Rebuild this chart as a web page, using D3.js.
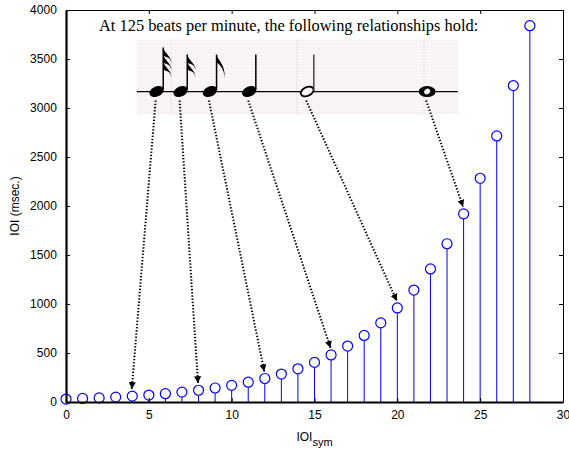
<!DOCTYPE html>
<html>
<head>
<meta charset="utf-8">
<script src="https://cdn.jsdelivr.net/npm/d3@7"></script>
<style>
  body { margin: 0; background: #fff; }
  svg { display: block; }
</style>
</head>
<body>
<div id="chart"></div>
<script>
// stem values (IOI in msec per IOI_sym step)
let ioiSym = d3.range(0, 29);
let ioiMsec = [30, 36, 42, 50, 60, 71, 85, 101, 120, 143, 170, 202, 240, 285, 339,
               404, 480, 571, 679, 807, 960, 1142, 1358, 1615, 1920, 2283, 2715, 3229, 3840];

let xTicks = [0, 5, 10, 15, 20, 25, 30];
let yTicks = [0, 500, 1000, 1500, 2000, 2500, 3000, 3500, 4000];

// inset: note symbols, their x position (in IOI_sym units) and the stem they point to
let noteTypes = ["32nd", "16th", "8th", "quarter", "half", "whole"];
let noteX = [5.47, 6.92, 8.69, 11.06, 14.56, 21.8];
let noteTarget = [4, 8, 12, 16, 20, 24];
let staffY = 3168;              // staff line level in msec units
let insetX = [4.28, 23.65];
let insetY = [2933, 3700];

let width = 569, height = 451;
let margin = {top: 10, right: 6, bottom: 49, left: 66};

let svg = d3.select("#chart")
    .append("svg")
    .attr("width", width)
    .attr("height", height);

let x = d3.scaleLinear().domain([0, 30]).range([margin.left, width - margin.right]);
let y = d3.scaleLinear().domain([0, 4000]).range([height - margin.bottom, margin.top]);

let axisFont = "'Liberation Sans', Arial, Helvetica, sans-serif";
let plain = d3.format("d");

// stems
svg.append("g").selectAll("line")
    .data(ioiSym)
    .enter()
    .append("line")
    .attr("x1", d => x(d)).attr("x2", d => x(d))
    .attr("y1", y(0))
    .attr("y2", (d, i) => y(ioiMsec[i]) + 5)
    .attr("stroke", "#0000ff")
    .attr("stroke-width", 1);

svg.append("g").selectAll("circle")
    .data(ioiSym)
    .enter()
    .append("circle")
    .attr("cx", d => x(d))
    .attr("cy", (d, i) => y(ioiMsec[i]))
    .attr("r", 5)
    .attr("fill", "none")
    .attr("stroke", "#0000ff")
    .attr("stroke-width", 1.2);

// axes (matlab style box, ticks pointing inward)
let axB = svg.append("g").attr("transform", `translate(0,${y(0)})`)
    .call(d3.axisBottom(x).tickValues(xTicks).tickFormat(plain).tickSizeInner(-4).tickSizeOuter(0).tickPadding(8));
let axT = svg.append("g").attr("transform", `translate(0,${y(4000)})`)
    .call(d3.axisTop(x).tickValues(xTicks).tickSizeInner(-4).tickSizeOuter(0).tickFormat(""));
let axL = svg.append("g").attr("transform", `translate(${x(0)},0)`)
    .call(d3.axisLeft(y).tickValues(yTicks).tickFormat(plain).tickSizeInner(-4).tickSizeOuter(0).tickPadding(8));
let axR = svg.append("g").attr("transform", `translate(${x(30)},0)`)
    .call(d3.axisRight(y).tickValues(yTicks).tickSizeInner(-4).tickSizeOuter(0).tickFormat(""));

[axB, axT, axL, axR].forEach(a => {
    a.selectAll("text").style("font-family", axisFont).style("font-size", "12px").attr("fill", "#000");
    a.selectAll("line").attr("stroke", "#000");
    a.select(".domain").attr("stroke", "#000");
});
axL.select(".domain").attr("stroke-width", 2.2);
axB.select(".domain").attr("stroke-width", 2);
axL.selectAll("text").attr("dx", "-0.1em");

// axis labels
svg.append("text")
    .attr("transform", `translate(19,${(y(0) + y(4000)) / 2}) rotate(-90)`)
    .style("text-anchor", "middle")
    .style("font-family", axisFont)
    .style("font-size", "12px")
    .text("IOI (msec.)");

let xl = svg.append("text")
    .attr("x", (x(0) + x(30)) / 2)
    .attr("y", 441)
    .style("text-anchor", "middle")
    .style("font-family", axisFont)
    .style("font-size", "12px");
xl.append("tspan").text("IOI");
xl.append("tspan").attr("dy", 5).style("font-size", "11px").text("sym");

// inset panel
let bg = "#fbf7f7";
let ix0 = x(insetX[0]), ix1 = x(insetX[1]);
let iy0 = y(insetY[1]), iy1 = y(insetY[0]);
let inset = svg.append("g");
inset.append("rect")
    .attr("x", ix0).attr("y", iy0)
    .attr("width", ix1 - ix0).attr("height", iy1 - iy0)
    .attr("fill", bg);
inset.selectAll("line.stripe")
    .data(d3.range(iy0 + 1.5, iy1, 3))
    .enter().append("line")
    .attr("class", "stripe")
    .attr("x1", ix0).attr("x2", ix1)
    .attr("y1", d => d).attr("y2", d => d)
    .attr("stroke", "#f0e6e6")
    .attr("stroke-width", 0.5);
inset.selectAll("line.vstripe")
    .data([171, 297, 424])
    .enter().append("line")
    .attr("class", "vstripe")
    .attr("x1", d => d).attr("x2", d => d)
    .attr("y1", iy0).attr("y2", iy1)
    .attr("stroke", "#ebe1e1")
    .attr("stroke-width", 0.8);

let sy = y(staffY);
inset.append("line")
    .attr("x1", ix0).attr("x2", ix1)
    .attr("y1", sy).attr("y2", sy)
    .attr("stroke", "#000").attr("stroke-width", 1.3);

svg.append("text")
    .attr("x", 99)
    .attr("y", 31)
    .style("font-family", "'Liberation Serif', 'Times New Roman', serif")
    .style("font-size", "16.4px")
    .text("At 125 beats per minute, the following relationships hold:");

function flag(g, sx, y0, len) {
    g.append("path")
        .attr("d", `M${sx},${y0} C${sx + 1},${y0 + 6} ${sx + 9},${y0 + 9} ${sx + 8},${y0 + len}
                   C${sx + 8},${y0 + len * 0.6} ${sx + 3},${y0 + 10} ${sx},${y0 + 8} Z`)
        .attr("fill", "#000");
}

function drawNote(type, cx) {
    let g = inset.append("g");
    if (type === "whole") {
        g.append("ellipse").attr("cx", cx).attr("cy", sy).attr("rx", 8.5).attr("ry", 5.5).attr("fill", "#000");
        g.append("ellipse").attr("cx", cx).attr("cy", sy).attr("rx", 3.2).attr("ry", 2.6)
            .attr("transform", `rotate(-40,${cx},${sy})`).attr("fill", bg);
        return;
    }
    let head = g.append("ellipse")
        .attr("cx", cx).attr("cy", sy)
        .attr("rx", 7.5).attr("ry", 5)
        .attr("transform", `rotate(-25,${cx},${sy})`);
    if (type === "half") {
        head.attr("fill", bg).attr("stroke", "#000").attr("stroke-width", 1.8)
            .attr("rx", 6.8).attr("ry", 4.3);
    } else {
        head.attr("fill", "#000");
    }
    let sx = cx + 6.6;
    let top = type === "32nd" ? sy - 44 : sy - 37;
    g.append("line")
        .attr("x1", sx).attr("x2", sx)
        .attr("y1", sy - 2).attr("y2", top)
        .attr("stroke", type === "half" ? "#444" : "#000")
        .attr("stroke-width", 1.5);
    let nFlags = {"32nd": 3, "16th": 2, "8th": 1}[type] || 0;
    for (let k = 0; k < nFlags; k++) {
        flag(g, sx, top + k * 7, nFlags === 1 ? 24 : 16);
    }
}

noteTypes.forEach((t, i) => drawNote(t, x(noteX[i])));

// dotted arrows from each note to its stem
svg.append("defs").append("marker")
    .attr("id", "arrowhead")
    .attr("viewBox", "0 0 10 10")
    .attr("refX", 10).attr("refY", 5)
    .attr("markerWidth", 7).attr("markerHeight", 7)
    .attr("markerUnits", "userSpaceOnUse")
    .attr("orient", "auto")
    .append("path")
    .attr("d", "M0,0 L10,5 L0,10 Z")
    .attr("fill", "#000");

svg.append("g").selectAll("line")
    .data(noteTarget)
    .enter()
    .append("line")
    .attr("x1", (d, i) => x(noteX[i]) - 1)
    .attr("y1", sy + 9)
    .attr("x2", d => x(d) - 0.5)
    .attr("y2", d => y(ioiMsec[d]) - 7)
    .attr("stroke", "#000")
    .attr("stroke-width", 2)
    .attr("stroke-dasharray", "1.4,1.8")
    .attr("marker-end", "url(#arrowhead)");
</script>
</body>
</html>
